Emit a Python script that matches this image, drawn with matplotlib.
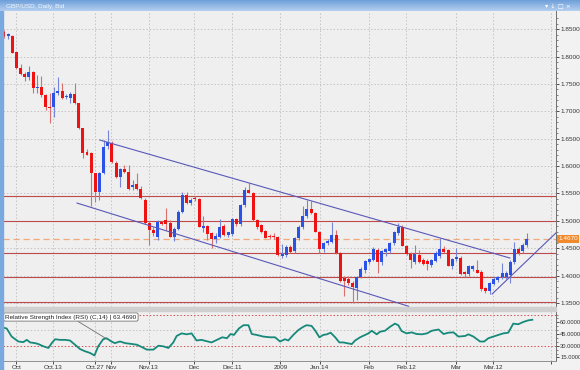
import matplotlib
matplotlib.use('Agg')
import numpy as np
import matplotlib.pyplot as plt
from matplotlib.patches import Rectangle
import matplotlib.transforms as mtransforms

# daily GBP/USD candles, Sep 26 2008 .. Mar 2009
opens = [1.8440, 1.8370, 1.8380, 1.8075, 1.7800, 1.7690, 1.7620, 1.7715, 1.7420, 1.7450,
         1.7300, 1.7085, 1.7070, 1.7330, 1.7375, 1.7255, 1.7250, 1.7325, 1.7145, 1.6690,
         1.6250, 1.6230, 1.5865, 1.5530, 1.5880, 1.6365, 1.6420, 1.6060, 1.5795, 1.5945,
         1.5895, 1.5610, 1.5680, 1.5580, 1.5380, 1.4960, 1.4830, 1.4700, 1.4980, 1.5010,
         1.4955, 1.4705, 1.4860, 1.5165, 1.5470, 1.5320, 1.5410, 1.5390, 1.4870, 1.4905,
         1.4770, 1.4665, 1.4710, 1.4900, 1.4740, 1.4760, 1.5030, 1.4950, 1.5290, 1.5570,
         1.5510, 1.5015, 1.4920, 1.4810, 1.4725, 1.4720, 1.4700, 1.4360, 1.4376, 1.4530,
         1.4450, 1.4680, 1.4890, 1.5090, 1.5210, 1.5150, 1.4800, 1.4480, 1.4590, 1.4620,
         1.4740, 1.4410, 1.3950, 1.3940, 1.3860, 1.3770, 1.3980, 1.4110, 1.4250, 1.4290,
         1.4470, 1.4240, 1.4430, 1.4450, 1.4590, 1.4780, 1.4890, 1.4540, 1.4390, 1.4250,
         1.4380, 1.4280, 1.4270, 1.4190, 1.4270, 1.4360, 1.4480, 1.4460, 1.4175, 1.4300,
         1.4330, 1.4070, 1.4030, 1.4120, 1.4100, 1.4070, 1.3770, 1.3720, 1.3850, 1.3920,
         1.3970, 1.3980, 1.4010, 1.4250, 1.4480, 1.4450, 1.4560]
highs = [1.8490, 1.8430, 1.8400, 1.8090, 1.7860, 1.7710, 1.7830, 1.7740, 1.7660, 1.7640,
         1.7320, 1.7330, 1.7445, 1.7620, 1.7515, 1.7320, 1.7355, 1.7515, 1.7160, 1.6700,
         1.6320, 1.6250, 1.5880, 1.5900, 1.6475, 1.6660, 1.6460, 1.6100, 1.5960, 1.6020,
         1.6020, 1.5750, 1.5870, 1.5640, 1.5420, 1.4990, 1.4880, 1.5015, 1.5000, 1.5230,
         1.5020, 1.4880, 1.5200, 1.5530, 1.5530, 1.5420, 1.5460, 1.5420, 1.5080, 1.4930,
         1.4800, 1.4780, 1.5040, 1.4940, 1.4800, 1.5050, 1.5060, 1.5300, 1.5620, 1.5690,
         1.5530, 1.5040, 1.4950, 1.4840, 1.4760, 1.4780, 1.4720, 1.4570, 1.4560, 1.4560,
         1.4700, 1.4920, 1.5270, 1.5380, 1.5360, 1.5170, 1.4820, 1.4620, 1.4670, 1.4970,
         1.4830, 1.4430, 1.3990, 1.4000, 1.3900, 1.3990, 1.4150, 1.4290, 1.4320, 1.4520,
         1.4500, 1.4470, 1.4510, 1.4620, 1.4820, 1.4960, 1.4930, 1.4560, 1.4430, 1.4560,
         1.4470, 1.4320, 1.4300, 1.4300, 1.4450, 1.4680, 1.4540, 1.4490, 1.4320, 1.4500,
         1.4360, 1.4090, 1.4200, 1.4200, 1.4280, 1.4100, 1.3800, 1.3890, 1.3980, 1.4000,
         1.4230, 1.4080, 1.4280, 1.4620, 1.4520, 1.4600, 1.4780]
lows = [1.8330, 1.8320, 1.8060, 1.7770, 1.7670, 1.7550, 1.7570, 1.7330, 1.7330, 1.7270,
        1.7020, 1.6790, 1.6900, 1.7290, 1.7220, 1.7220, 1.7155, 1.7140, 1.6680, 1.6150,
        1.6200, 1.5270, 1.5350, 1.5380, 1.5850, 1.6320, 1.6050, 1.5780, 1.5610, 1.5880,
        1.5570, 1.5560, 1.5560, 1.5400, 1.4940, 1.4560, 1.4720, 1.4650, 1.4920, 1.4830,
        1.4700, 1.4640, 1.4840, 1.5140, 1.5300, 1.5290, 1.5360, 1.4880, 1.4800, 1.4650,
        1.4500, 1.4600, 1.4680, 1.4720, 1.4700, 1.4720, 1.4900, 1.4900, 1.5260, 1.5500,
        1.5000, 1.4860, 1.4770, 1.4680, 1.4660, 1.4670, 1.4350, 1.4330, 1.4340, 1.4410,
        1.4420, 1.4650, 1.4860, 1.5060, 1.5130, 1.4790, 1.4410, 1.4440, 1.4550, 1.4590,
        1.4400, 1.3880, 1.3620, 1.3820, 1.3500, 1.3550, 1.3950, 1.4050, 1.4220, 1.4260,
        1.4050, 1.4200, 1.4350, 1.4420, 1.4560, 1.4750, 1.4540, 1.4370, 1.4140, 1.4210,
        1.4230, 1.4200, 1.4100, 1.4150, 1.4240, 1.4330, 1.4410, 1.4170, 1.4130, 1.4270,
        1.4020, 1.3980, 1.4000, 1.4090, 1.4040, 1.3720, 1.3690, 1.3660, 1.3820, 1.3890,
        1.3940, 1.3940, 1.3860, 1.4220, 1.4380, 1.4420, 1.4530]
closes = [1.8375, 1.8410, 1.8070, 1.7800, 1.7690, 1.7620, 1.7720, 1.7420, 1.7450, 1.7300,
          1.7080, 1.7055, 1.7340, 1.7375, 1.7250, 1.7275, 1.7315, 1.7155, 1.6690, 1.6235,
          1.6210, 1.5865, 1.5530, 1.5880, 1.6350, 1.6440, 1.6075, 1.5805, 1.5940, 1.5895,
          1.5590, 1.5660, 1.5580, 1.5420, 1.4965, 1.4830, 1.4780, 1.4975, 1.4950, 1.4950,
          1.4705, 1.4860, 1.5165, 1.5470, 1.5320, 1.5380, 1.5390, 1.4880, 1.4905, 1.4760,
          1.4665, 1.4725, 1.4890, 1.4740, 1.4790, 1.5030, 1.4940, 1.5290, 1.5560, 1.5510,
          1.5015, 1.4895, 1.4800, 1.4690, 1.4700, 1.4700, 1.4380, 1.4395, 1.4530, 1.4440,
          1.4680, 1.4890, 1.5090, 1.5210, 1.5150, 1.4800, 1.4480, 1.4590, 1.4640, 1.4740,
          1.4410, 1.3910, 1.3900, 1.3860, 1.3790, 1.3980, 1.4120, 1.4270, 1.4300, 1.4480,
          1.4240, 1.4450, 1.4480, 1.4600, 1.4800, 1.4890, 1.4540, 1.4390, 1.4280, 1.4390,
          1.4250, 1.4220, 1.4210, 1.4280, 1.4420, 1.4480, 1.4440, 1.4175, 1.4300, 1.4340,
          1.4030, 1.4030, 1.4180, 1.4180, 1.4050, 1.3750, 1.3720, 1.3860, 1.3930, 1.3980,
          1.4040, 1.4050, 1.4250, 1.4490, 1.4420, 1.4560, 1.4670]

levels = [1.5460, 1.4990, 1.4410, 1.3980, 1.3510]
last_price = 1.4670
channel_top = [(24.1, 1.6475), (122.9, 1.4321)]
channel_bottom = [(18.6, 1.5325), (98.5, 1.3440)]
support = [(118.6, 1.3664), (134.0, 1.4780)]

rsi_x = [0.7, 1.65, 2.85, 4.45, 5.65, 6.5, 7.3, 8.5, 9.3, 10.5, 11.7, 12.5, 13.3, 14.5, 15.7,
         16.9, 18.1, 19.3, 20.5, 21.7, 22.8, 23.7, 24.9, 25.7, 26.9, 27.7, 28.95, 30.2, 31.4,
         33.0, 34.2, 35.4, 37.0, 38.2, 39.4, 40.6, 41.8, 42.6, 43.8, 45.0, 46.2, 47.4, 48.6,
         49.8, 51.0, 52.3, 53.6, 54.7, 55.6, 56.4, 57.6, 58.7, 59.9, 60.7, 61.9, 63.5, 65.1,
         66.3, 67.5, 68.7, 69.5, 70.7, 71.9, 73.1, 73.9, 75.1, 75.9, 77.0, 77.9, 78.8, 79.7,
         80.8, 81.8, 82.8, 83.6, 84.8, 85.6, 86.8, 88.0, 88.8, 89.6, 90.8, 91.6, 92.8, 94.0,
         95.2, 96.0, 96.8, 98.0, 99.2, 100.4, 101.7, 102.9, 104.1, 105.7, 106.9, 108.1, 109.3,
         110.5, 112.1, 112.9, 114.1, 115.7, 116.7, 117.7, 118.9, 120.1, 121.3, 122.5, 123.7,
         124.9, 126.1, 127.3, 128.3]
rsi_y = [53.3, 52.1, 41.7, 35.4, 34.6, 37.5, 34.2, 33.3, 32.1, 29.2, 27.1, 33.3, 38.3, 37.5, 37.5,
         36.7, 31.3, 25.8, 22.9, 20.8, 17.5, 29.2, 38.3, 39.6, 35.4, 33.3, 35.4, 33.3, 32.5,
         31.3, 28.3, 25.0, 25.0, 30.0, 29.2, 27.1, 34.2, 42.5, 45.8, 44.6, 45.8, 36.7, 37.5,
         35.8, 34.2, 37.5, 40.8, 39.6, 45.0, 43.8, 52.1, 56.3, 56.3, 45.0, 43.8, 41.7, 40.8,
         40.8, 35.4, 38.3, 36.7, 43.8, 50.0, 54.2, 56.3, 55.4, 50.0, 40.8, 43.8, 44.6, 46.7,
         40.8, 34.2, 34.2, 33.3, 32.1, 36.7, 40.8, 43.8, 45.8, 49.2, 44.6, 47.9, 49.2, 54.2,
         58.3, 56.3, 48.8, 45.8, 47.1, 45.0, 44.6, 45.8, 49.2, 50.8, 45.0, 46.7, 47.1,
         41.7, 42.5, 44.6, 41.7, 35.4, 35.4, 39.6, 41.7, 43.8, 45.8, 46.7, 58.3,
         57.5, 60.4, 62.5, 63.3]
rsi_last = 63.4690

date_ticks = [4, 12.8, 22.9, 26.8, 35.9, 46.8, 55.9, 67.6, 77.1, 88.9, 97.9, 109.9, 118.8, 132.8]
date_labels = ['Oct', 'Oct.13', 'Oct.27', 'Nov', 'Nov.13', 'Dec', 'Dec.11', '2009', 'Jan.14',
               'Feb', 'Feb.12', 'Mar', 'Mar.12', '']

W, H = 580, 370
BULL, BEAR = '#2a52e6', '#ee1212'
GRID = '#c4c4c4'
FS = 4.6
plt.rcParams['font.family'] = ['Liberation Sans', 'DejaVu Sans']

fig = plt.figure(figsize=(W / 100, H / 100), dpi=100, facecolor='#f2f2f2')

# title bar + left strip + panel separator
bar = fig.add_axes([0, 1 - 11 / H, 1, 11 / H])
grad = np.linspace(0, 1, 20).reshape(-1, 1)
bar.imshow(grad, aspect='auto', cmap=matplotlib.colors.LinearSegmentedColormap.from_list(
    'tb', ['#6f9fd9', '#b3cff0']), extent=(0, 1, 0, 1))
bar.axis('off')
bar.text(0.01, 0.45, 'GBP/USD, Daily, Bid', color='#f4f8ff', fontsize=FS, va='center')
bar.text(0.985, 0.45, '\u25be \u2193 \u25a1 \u00d7', color='white', fontsize=FS, va='center',
         ha='right', family='DejaVu Sans')
fig.patches.append(Rectangle((0, 0), 3 / W, 1 - 11 / H, transform=fig.transFigure,
                             color='#7aa9e0', zorder=5))
fig.patches.append(Rectangle((3 / W, 1 - 311 / H), 553 / W, 4 / H, transform=fig.transFigure,
                             color='#d0d0d0', zorder=1))

ax = fig.add_axes([3 / W, 1 - 307 / H, 553 / W, 296 / H])
ax2 = fig.add_axes([3 / W, 1 - 361 / H, 553 / W, 50 / H])

x = np.arange(1, len(opens) + 1)
o, h, l, c = map(np.array, (opens, highs, lows, closes))
up = c >= o
cols = np.where(up, BULL, BEAR)
wcols = np.where(up, '#7686d6', '#d87070')
ax.vlines(x, l, h, colors=wcols, lw=0.8, zorder=3)
ax.bar(x, np.maximum(np.abs(c - o), 0.0006), bottom=np.minimum(o, c), width=0.72,
       color=cols, zorder=4)

for lv in levels:
    ax.axhline(lv, color='#c04a4a', lw=0.8, zorder=2)
ax.axhline(last_price, color='#f2a878', lw=0.9, ls=(0, (5, 3)), zorder=2)
for seg in (channel_top, channel_bottom, support):
    ax.plot([p[0] for p in seg], [p[1] for p in seg], color='#5a58b8', lw=0.8, zorder=5)

ax.set_xlim(0.76, 134.0)
ax.set_ylim(1.3427, 1.8832)
ax.set_facecolor('#efefef')
ax.yaxis.tick_right()
ax.set_yticks(np.arange(1.35, 1.851, 0.05))
ax.set_yticks(np.arange(1.35, 1.88, 0.01), minor=True)
ax.yaxis.set_major_formatter(matplotlib.ticker.FormatStrFormatter('%.4f'))
ax.tick_params(axis='y', which='major', labelsize=FS, length=2.5, width=0.6, pad=0.5,
               colors='#333333')
ax.tick_params(axis='y', which='minor', length=1.5, width=0.5, colors='#555555')
ax.set_xticks(date_ticks)
ax.tick_params(axis='x', bottom=False, labelbottom=False)
ax.grid(True, which='major', color=GRID, ls=(0, (1.5, 2)), lw=0.7)
for s in ('top', 'left', 'bottom'):
    ax.spines[s].set_visible(False)
ax.spines['right'].set_color('#707070')
ax.spines['right'].set_linewidth(0.7)

trans = mtransforms.blended_transform_factory(ax.transAxes, ax.transData)
ax.text(1.004, last_price, '1.4670', transform=trans, fontsize=FS, color='white',
        va='center', ha='left', zorder=10, clip_on=False,
        bbox=dict(boxstyle='square,pad=0.2', fc='#f08a2a', ec='none'))

# RSI panel
ax2.plot(rsi_x, rsi_y, color='#16897a', lw=1.3, zorder=4)
for lv in (70, 30):
    ax2.axhline(lv, color='#d85050', lw=0.7, ls=(0, (1.5, 2)), zorder=2)
ax2.axhline(50, color=GRID, lw=0.7, ls=(0, (1.5, 2)), zorder=2)
ax2.set_xlim(0.76, 134.0)
ax2.set_ylim(10.4, 74.5)
ax2.set_facecolor('#efefef')
ax2.yaxis.tick_right()
ax2.set_yticks([15, 30, 45, 60])
ax2.set_yticks(np.arange(15, 75, 5), minor=True)
ax2.yaxis.set_major_formatter(matplotlib.ticker.FormatStrFormatter('%.4f'))
ax2.tick_params(axis='y', which='major', labelsize=4.2, length=2.5, width=0.6, pad=0.5,
                colors='#333333')
ax2.tick_params(axis='y', which='minor', length=1.5, width=0.5, colors='#555555')
ax2.set_xticks(date_ticks)
ax2.set_xticklabels(date_labels)
ax2.tick_params(axis='x', labelsize=FS, length=2, width=0.6, pad=1, colors='#333333')
ax2.grid(True, axis='x', color=GRID, ls=(0, (1.5, 2)), lw=0.7)
for s in ('top', 'left'):
    ax2.spines[s].set_visible(False)
ax2.spines['right'].set_color('#707070')
ax2.spines['bottom'].set_color('#909090')
for s in ('right', 'bottom'):
    ax2.spines[s].set_linewidth(0.7)

ax2.annotate(f'Relative Strength Index (RSI) (C,14) | {rsi_last:.4f}', xy=(25.8, 38.5),
             xytext=(1.3, 66.8), fontsize=FS, color='#222222', va='center', ha='left',
             bbox=dict(boxstyle='round,pad=0.25', fc='white', ec='#707070', lw=0.6),
             arrowprops=dict(arrowstyle='-', color='#707070', lw=0.6, shrinkA=0, shrinkB=0),
             zorder=10)

fig.savefig('out.png', dpi=100, facecolor=fig.get_facecolor())
